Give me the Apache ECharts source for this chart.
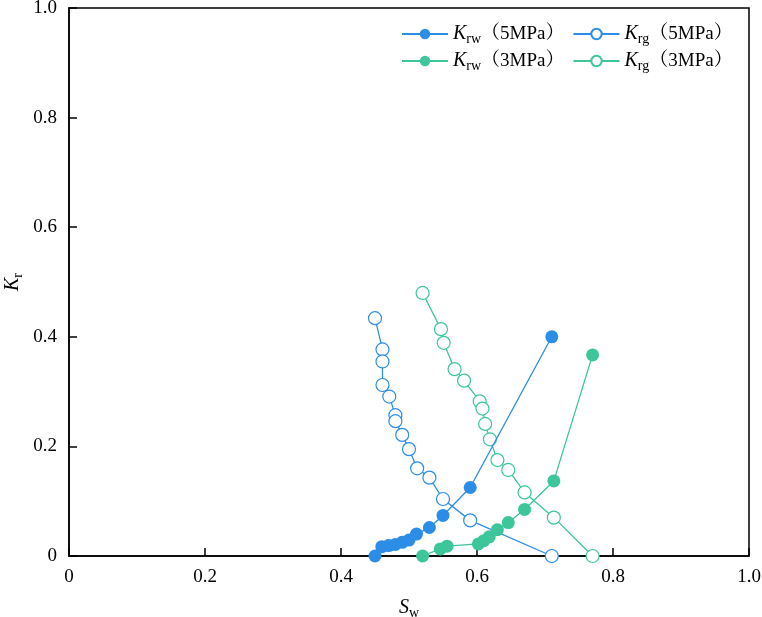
<!DOCTYPE html>
<html>
<head>
<meta charset="utf-8">
<script src="https://cdn.jsdelivr.net/npm/echarts@6/dist/echarts.min.js"></script>
<style>
  html, body { margin: 0; padding: 0; background: #fff; }
  #chart { width: 762px; height: 617px; }
</style>
</head>
<body>
<div id="chart"></div>
<script>
  // Sw / Kr values
  const krw5 = [[0.450, 0], [0.460, 0.017], [0.470, 0.019], [0.480, 0.021], [0.490, 0.025], [0.500, 0.029],
    [0.511, 0.040], [0.530, 0.052], [0.550, 0.074], [0.590, 0.125], [0.710, 0.400]]
  const krg5 = [[0.450, 0.434], [0.461, 0.377], [0.461, 0.355], [0.461, 0.312], [0.471, 0.291], [0.480, 0.257],
    [0.480, 0.246], [0.490, 0.221], [0.500, 0.195], [0.512, 0.160], [0.530, 0.143], [0.550, 0.104],
    [0.590, 0.065], [0.710, 0]]
  const krw3 = [[0.520, 0], [0.546, 0.013], [0.556, 0.018], [0.602, 0.022], [0.610, 0.028], [0.618, 0.035],
    [0.630, 0.048], [0.646, 0.061], [0.670, 0.085], [0.713, 0.137], [0.770, 0.367]]
  const krg3 = [[0.520, 0.480], [0.547, 0.414], [0.551, 0.389], [0.567, 0.341], [0.581, 0.320], [0.604, 0.282],
    [0.608, 0.269], [0.612, 0.241], [0.619, 0.213], [0.630, 0.175], [0.646, 0.157], [0.670, 0.116],
    [0.713, 0.070], [0.770, 0]]
  const seriesNames = ['Krw5', 'Krg5', 'Krw3', 'Krg3']
  const legendText = {
    Krw5: ['rw', '（5MPa）'],
    Krg5: ['rg', '（5MPa）'],
    Krw3: ['rw', '（3MPa）'],
    Krg3: ['rg', '（3MPa）']
  }

  const blue = '#2b8de6'
  const green = '#3cc69a'
  const serif = "'Liberation Serif', 'Noto Serif CJK SC', 'Noto Sans CJK SC', serif"

  const chart = echarts.init(document.getElementById('chart'))

  function makeSeries(name, data, color, filled) {
    return {
      name: name,
      type: 'line',
      data: data,
      symbol: 'circle',
      symbolSize: 13,
      showSymbol: true,
      lineStyle: { color: color, width: 1.3 },
      itemStyle: filled
        ? { color: color, borderWidth: 0 }
        : { color: '#fff', borderColor: color, borderWidth: 1.2 },
      z: filled ? 3 : 2,
      animation: false
    }
  }

  const legendRich = {
    k: { fontFamily: serif, fontStyle: 'italic', fontSize: 20, color: '#000' },
    s: { fontFamily: serif, fontSize: 14, color: '#000', padding: [10, 0, 0, 0] },
    t: { fontFamily: serif, fontSize: 19, color: '#000' }
  }
  function legendFmt(name) {
    const p = legendText[name]
    return '{k|K}{s|' + p[0] + '}{t|' + p[1] + '}'
  }
  const legendBase = {
    left: 396,
    itemWidth: 46,
    itemHeight: 13,
    itemGap: 8,
    formatter: legendFmt,
    textStyle: { rich: legendRich }
  }

  chart.setOption({
    backgroundColor: '#fff',
    grid: {
      left: 69, right: 13, top: 8, bottom: 61,
      outerBoundsMode: 'none',
      containLabel: false,
      show: true, borderColor: '#000', borderWidth: 1.5
    },
    legend: [
      Object.assign({ top: 19, data: [seriesNames[0], seriesNames[1]] }, legendBase),
      Object.assign({ top: 46, data: [seriesNames[2], seriesNames[3]] }, legendBase)
    ],
    xAxis: {
      type: 'value',
      min: 0, max: 1, interval: 0.2,
      name: '{k|S}{s|w}',
      nameLocation: 'middle',
      nameGap: 40,
      nameTextStyle: { rich: legendRich },
      axisLine: { lineStyle: { color: '#000', width: 1.5 } },
      axisTick: { inside: true, length: 8, lineStyle: { color: '#000', width: 1.5 } },
      splitLine: { show: false },
      axisLabel: {
        color: '#000', fontFamily: serif, fontSize: 19, margin: 12,
        formatter: v => v === 0 ? '0' : v.toFixed(1)
      }
    },
    yAxis: {
      type: 'value',
      min: 0, max: 1, interval: 0.2,
      name: '{k|K}{s|r}',
      nameLocation: 'middle',
      nameGap: 44,
      nameMoveOverlap: false,
      nameTextStyle: { rich: legendRich },
      axisLine: { lineStyle: { color: '#000', width: 1.5 } },
      axisTick: { inside: true, length: 8, lineStyle: { color: '#000', width: 1.5 } },
      splitLine: { show: false },
      axisLabel: {
        color: '#000', fontFamily: serif, fontSize: 19, margin: 12,
        formatter: v => v === 0 ? '0' : v.toFixed(1)
      }
    },
    series: [
      makeSeries('Krw5', krw5, blue, true),
      makeSeries('Krg5', krg5, blue, false),
      makeSeries('Krw3', krw3, green, true),
      makeSeries('Krg3', krg3, green, false)
    ]
  })
</script>
</body>
</html>
